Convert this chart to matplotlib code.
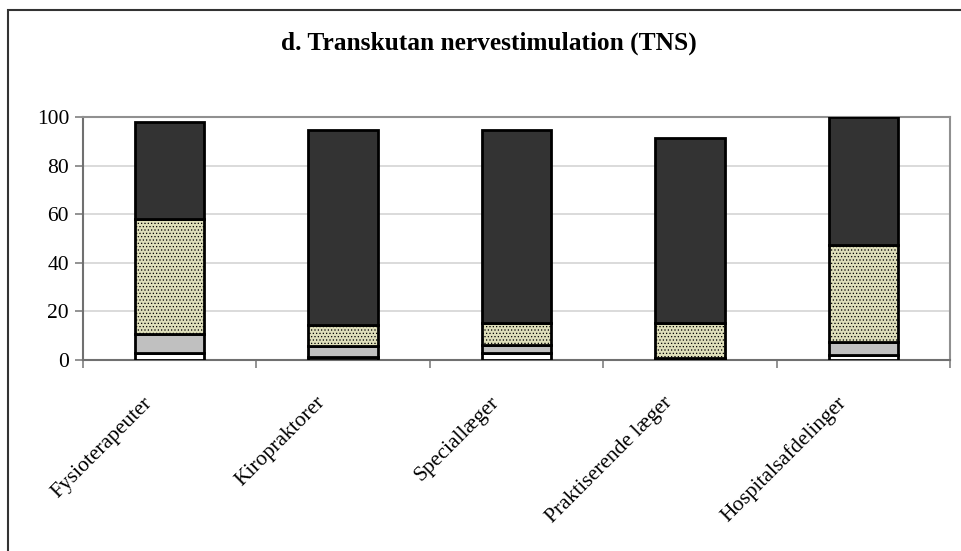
import numpy as np
import matplotlib
matplotlib.use("Agg")
import matplotlib.pyplot as plt
import matplotlib.transforms as mtransforms
from matplotlib.patches import Rectangle

# data (percent)
categories = ['Fysioterapeuter', 'Kiropraktorer', 'Speciallæger',
              'Praktiserende læger', 'Hospitalsafdelinger']
seg1 = [3.0, 1.4, 2.9, 0.3, 2.1]      # white
seg2 = [7.5, 4.2, 3.4, 0.5, 5.2]      # light grey
seg3 = [47.7, 8.8, 9.0, 14.5, 40.1]   # beige dotted
seg4 = [39.9, 80.2, 79.3, 76.1, 52.4] # dark
yticks = [0, 20, 40, 60, 80, 100]

plt.rcParams['font.family'] = ['Liberation Serif', 'DejaVu Serif']
plt.rcParams['hatch.color'] = '#cdcda6'
plt.rcParams['hatch.linewidth'] = 0.5

fig = plt.figure(figsize=(9.62, 5.51), dpi=100)
ax = fig.add_axes([83/962, 1-360/551, (950-83)/962, (360-117)/551])

x = np.arange(len(categories))
w = 0.40
bottom = np.zeros(len(categories))
styles = [
    dict(color='white'),
    dict(color='#c0c0c0'),
    dict(color='#dedeba', hatch='.....'),
    dict(color='#333333'),
]
for vals, st in zip([seg1, seg2, seg3, seg4], styles):
    ax.bar(x, vals, w, bottom=bottom, facecolor=st['color'], edgecolor='black',
           linewidth=2, hatch=st.get('hatch'), zorder=3)
    bottom += np.array(vals)

ax.set_ylim(0, 100)
ax.set_xlim(-0.5, len(categories) - 0.5)
ax.set_yticks(yticks)
ax.set_yticklabels([str(v) for v in yticks], fontsize=15.5)
ax.yaxis.grid(True, color='#d4d4d4', linewidth=1.2, zorder=0)
ax.set_axisbelow(True)

ax.set_xticks(x)
ax.set_xticklabels(categories, rotation=45, ha='right', va='top',
                   rotation_mode='anchor', fontsize=15.5)
ax.tick_params(axis='x', which='major', length=0, pad=24)
shift = mtransforms.ScaledTranslation(-0.27, 0, fig.dpi_scale_trans)
for lab in ax.get_xticklabels():
    lab.set_transform(lab.get_transform() + shift)
ax.set_xticks(np.arange(-0.5, len(categories)), minor=True)
ax.tick_params(axis='x', which='minor', length=6, width=1.2, color='#808080', direction='out')
ax.tick_params(axis='y', length=6, width=1.2, color='#808080', direction='out', pad=4)

for s in ['top', 'right']:
    ax.spines[s].set_color('#909090')
    ax.spines[s].set_linewidth(1.5)
for s in ['left', 'bottom']:
    ax.spines[s].set_color('#707070')
    ax.spines[s].set_linewidth(1.5)

fig.text(489/962, 1-43/551, 'd. Transkutan nervestimulation (TNS)',
         ha='center', va='center', fontsize=18.3, fontweight='bold')

# outer chart frame (runs past right and bottom edges)
fig.add_artist(Rectangle((8/962, -0.1), 1.2, 1.1 - 10/551, transform=fig.transFigure,
                         fill=False, edgecolor='#333333', linewidth=1.5))

fig.savefig('out.png', dpi=100)
